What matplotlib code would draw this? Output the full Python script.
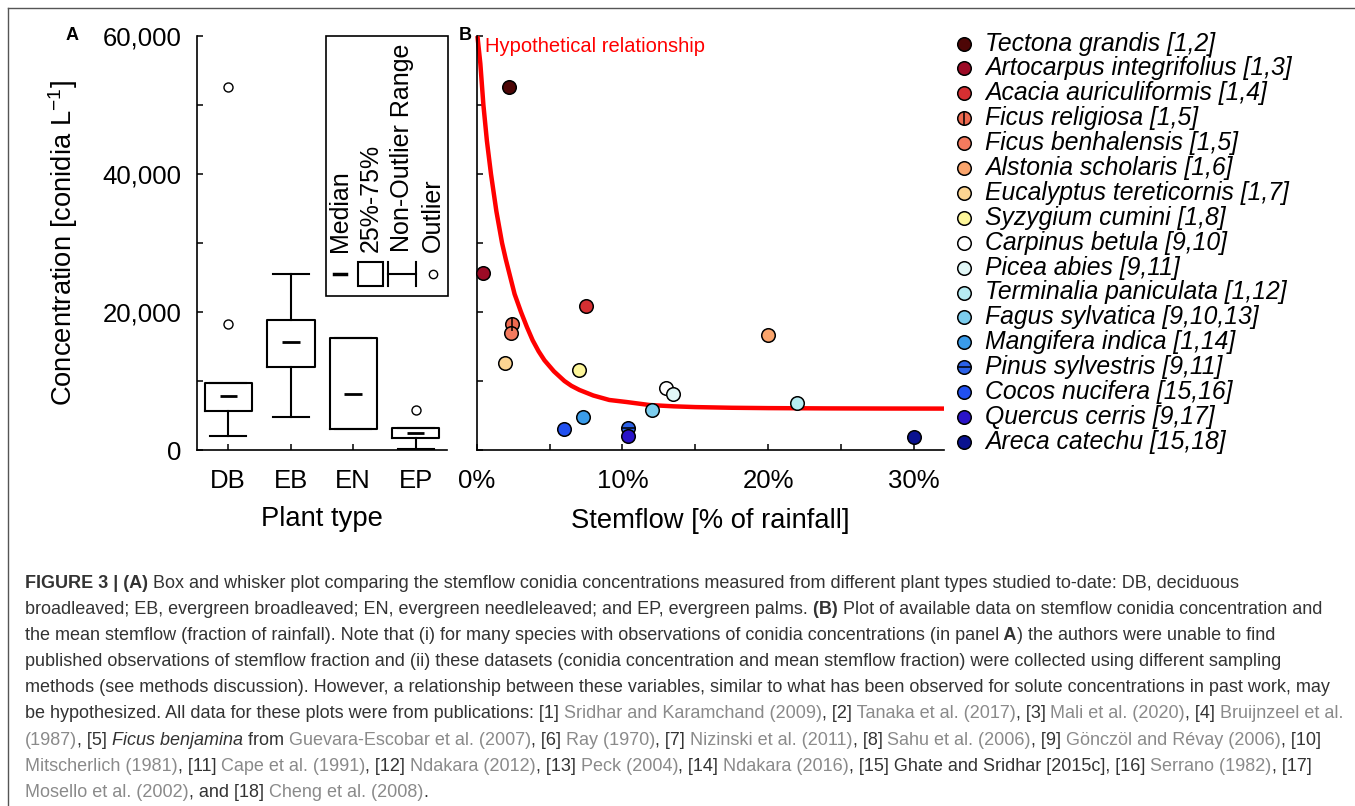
import matplotlib
matplotlib.use("Agg")
import matplotlib.pyplot as plt
from matplotlib.patches import Rectangle
from matplotlib.lines import Line2D

plt.rcParams['font.family'] = ['Liberation Sans', 'DejaVu Sans']
plt.rcParams['mathtext.fontset'] = 'custom'
plt.rcParams['mathtext.rm'] = 'Liberation Sans'
plt.rcParams['mathtext.it'] = 'Liberation Sans:italic'

# panel A - box plot stats per plant type
plant_types = ['DB', 'EB', 'EN', 'EP']
box_q1 = [5700, 11980, 3090, 1790]
box_med = [7870, 15650, 8070, 2510]
box_q3 = [9670, 18840, 16280, 3140]
whisker_low = [1980, 4730, 3090, 190]
whisker_high = [9670, 25550, 16280, 3140]
outliers = [[52650, 18210], [], [], [5800]]

# panel B - species, stemflow %, conidia conc.
species = ['Tectona grandis [1,2]', 'Artocarpus integrifolius [1,3]',
           'Acacia auriculiformis [1,4]', 'Ficus religiosa [1,5]',
           'Ficus benhalensis [1,5]', 'Alstonia scholaris [1,6]',
           'Eucalyptus tereticornis [1,7]', 'Syzygium cumini [1,8]',
           'Carpinus betula [9,10]', 'Picea abies [9,11]',
           'Terminalia paniculata [1,12]', 'Fagus sylvatica [9,10,13]',
           'Mangifera indica [1,14]', 'Pinus sylvestris [9,11]',
           'Cocos nucifera [15,16]', 'Quercus cerris [9,17]',
           'Areca catechu [15,18]']
stemflow = [2.2, 0.4, 7.5, 2.4, 2.35, 20.0, 1.95, 7.0, 13.0, 13.45,
            22.0, 12.0, 7.3, 10.4, 6.0, 10.4, 30.0]
conidia = [52600, 25600, 20800, 18250, 17000, 16700, 12600, 11550, 8950,
           8100, 6850, 5750, 4750, 3130, 3080, 1980, 1880]
sp_colors = ['#4d0606', '#9c0b26', '#d62f32', '#ee6a50', '#f47a5e',
             '#f9a46c', '#fdd592', '#fdf69a', '#ffffff', '#e2f8f8',
             '#b6ecf3', '#7ccdee', '#3a9cea', '#2c62e8', '#2150f0',
             '#2a13c8', '#0a1290']
sp_stripe = {'Ficus religiosa [1,5]': '|', 'Pinus sylvestris [9,11]': '_'}

# hypothetical relationship, points
curve_x = [0.05, 0.25, 0.46, 0.7, 0.98, 1.35, 1.74, 2.0, 2.24, 2.6, 3.04,
           3.45, 3.84, 4.25, 4.65, 5.3, 6.02, 6.5, 7.05, 8.0, 9.1, 10.3,
           11.85, 13.5, 15.0, 17.5, 20.0, 24.0, 28.0, 32.07]
curve_y = [60000, 56000, 50000, 44800, 40000, 34600, 30000, 27600, 25600,
           22600, 20000, 17800, 15900, 14300, 13000, 11400, 10000, 9300,
           8700, 7900, 7250, 6950, 6520, 6330, 6220, 6120, 6070, 6030,
           6010, 6000]

W, H = 1355, 806
fig = plt.figure(figsize=(W / 100, H / 100), dpi=100)

def ax_rect(l, r, t, b):
    return [l / W, 1 - b / H, (r - l) / W, (b - t) / H]

tick_fs = 18.5
lab_fs = 19.7

def style_axes(ax):
    for s in ['top', 'right']:
        ax.spines[s].set_visible(False)
    for s in ['left', 'bottom']:
        ax.spines[s].set_linewidth(1.2)
    ax.tick_params(direction='in', length=4.2, width=1.1, labelsize=tick_fs)
    ax.tick_params(axis='x', pad=14)
    ax.tick_params(axis='y', pad=11)
    ax.set_ylim(0, 60000)
    ax.set_yticks(range(0, 60001, 10000))

# ---- panel A
axA = fig.add_axes(ax_rect(197, 447, 36, 450))
style_axes(axA)
pos = [1, 2, 3, 4]
stats = []
for i in range(4):
    stats.append(dict(med=box_med[i], q1=box_q1[i], q3=box_q3[i],
                      whislo=whisker_low[i], whishi=whisker_high[i],
                      fliers=outliers[i]))
lp = dict(color='black', linewidth=1.5)
axA.bxp(stats, positions=pos, widths=0.76, capwidths=0.58,
        boxprops=lp, whiskerprops=lp, capprops=lp,
        medianprops=dict(visible=False),
        flierprops=dict(marker='o', markersize=6.5, markerfacecolor='none',
                        markeredgecolor='black', markeredgewidth=1),
        manage_ticks=False)
axA.hlines(box_med, [p - 0.14 for p in pos], [p + 0.14 for p in pos],
           color='black', linewidth=2)
axA.set_xlim(0.5, 4.5)
axA.set_xticks(pos)
axA.set_xticklabels(plant_types)
axA.set_yticklabels(['0', '', '20,000', '', '40,000', '', '60,000'])
axA.set_ylabel('Concentration [conidia L$^{-1}$]', fontsize=lab_fs)
axA.yaxis.set_label_coords(-0.468, 0.5)
axA.set_xlabel('Plant type', fontsize=lab_fs)
axA.xaxis.set_label_coords(0.5, -0.135)

# rotated key inside panel A
axA.add_patch(Rectangle((0.516, 0.372), 0.488, 0.628, transform=axA.transAxes,
                        fill=False, edgecolor='black', linewidth=1.2,
                        clip_on=False))
key_x = [(340 - 197) / 250, (371 - 197) / 250, (402 - 197) / 250, (433 - 197) / 250]
key_lab = ['Median', '25%-75%', 'Non-Outlier Range', 'Outlier']
for kx, kl in zip(key_x, key_lab):
    axA.text(kx, 0.478, kl, rotation=90, ha='center', va='bottom',
             fontsize=18, transform=axA.transAxes)
ky = (450 - 274) / 414
axA.plot([key_x[0] - 0.022, key_x[0] + 0.022], [ky, ky], color='black', lw=2.5,
         transform=axA.transAxes, clip_on=False)
axA.add_patch(Rectangle((key_x[1] - 0.05, ky - 0.028), 0.1, 0.056,
                        transform=axA.transAxes, fill=False, edgecolor='black',
                        linewidth=1.5, clip_on=False))
axA.plot([key_x[2] - 0.055, key_x[2] + 0.055], [ky, ky], color='black', lw=1.5,
         transform=axA.transAxes, clip_on=False)
for dx in (-0.055, 0.055):
    axA.plot([key_x[2] + dx, key_x[2] + dx], [ky - 0.028, ky + 0.028],
             color='black', lw=1.5, transform=axA.transAxes, clip_on=False)
axA.plot([key_x[3]], [ky], marker='o', markersize=6, markerfacecolor='none',
         markeredgecolor='black', transform=axA.transAxes, clip_on=False)

# ---- panel B
axB = fig.add_axes(ax_rect(476.7, 944, 36, 450))
style_axes(axB)
axB.set_yticklabels([])
axB.set_xlim(0, 32.07)
axB.set_xticks(range(0, 31, 5))
axB.set_xticklabels(['0%', '', '10%', '', '20%', '', '30%'])
axB.set_xlabel('Stemflow [% of rainfall]', fontsize=lab_fs)
axB.xaxis.set_label_coords(0.5, -0.14)
axB.plot(curve_x, curve_y, color='#ff0000', linewidth=3.2, zorder=2,
         clip_on=False, solid_capstyle='butt', solid_joinstyle='round')
axB.text(0.018, 0.9746, 'Hypothetical relationship', color='#ff0000',
         fontsize=14.5, transform=axB.transAxes, va='center', ha='left')
for sx, sy, c, name in zip(stemflow, conidia, sp_colors, species):
    axB.scatter(sx, sy, s=95, color=c, edgecolors='black', linewidths=1.1,
                zorder=3, clip_on=False)
    if name in sp_stripe:
        axB.scatter(sx, sy, s=95, marker=sp_stripe[name], color='black',
                    linewidths=1.1, zorder=4, clip_on=False)

# ---- overlay in pixel coordinates: labels, species key, caption, frame
ov = fig.add_axes([0, 0, 1, 1])
ov.set_xlim(0, W)
ov.set_ylim(H, 0)
ov.axis('off')

ov.text(72, 36, 'A', fontsize=13, fontweight='bold', ha='center', va='center')
ov.text(465, 35, 'B', fontsize=13, fontweight='bold', ha='center', va='center')

for i, (name, c) in enumerate(zip(species, sp_colors)):
    yy = 43.5 + i * 24.9
    ov.scatter(964, yy, s=95, color=c, edgecolors='black', linewidths=1.1)
    if name in sp_stripe:
        ov.scatter(964, yy, s=95, marker=sp_stripe[name], color='black',
                   linewidths=1.1)
    ov.text(985, yy, name, fontsize=17.8, fontstyle='italic', ha='left',
            va='center')

ov.add_line(Line2D([8, W], [8, 8], color='#555555', linewidth=1))
ov.add_line(Line2D([8, 8], [8, H], color='#555555', linewidth=1))

cap_fs = 13
dark = '#333333'
grey = '#8a8a8a'
B_, G_, I_, N_ = 'b', 'g', 'i', 'n'
cap_lines = [
    [('FIGURE 3 | (A)', B_), (' Box and whisker plot comparing the stemflow conidia concentrations measured from different plant types studied to-date: DB, deciduous', N_)],
    [('broadleaved; EB, evergreen broadleaved; EN, evergreen needleleaved; and EP, evergreen palms.', N_), (' (B)', B_), (' Plot of available data on stemflow conidia concentration and', N_)],
    [('the mean stemflow (fraction of rainfall). Note that (i) for many species with observations of conidia concentrations (in panel', N_), (' A', B_), (') the authors were unable to find', N_)],
    [('published observations of stemflow fraction and (ii) these datasets (conidia concentration and mean stemflow fraction) were collected using different sampling', N_)],
    [('methods (see methods discussion). However, a relationship between these variables, similar to what has been observed for solute concentrations in past work, may', N_)],
    [('be hypothesized. All data for these plots were from publications: [1]', N_), (' Sridhar and Karamchand (2009)', G_), (', [2]', N_), (' Tanaka et al. (2017)', G_), (', [3]', N_), (' Mali et al. (2020)', G_), (', [4]', N_), (' Bruijnzeel et al.', G_)],
    [('(1987)', G_), (', [5]', N_), (' Ficus benjamina', I_), (' from', N_), (' Guevara-Escobar et al. (2007)', G_), (', [6]', N_), (' Ray (1970)', G_), (', [7]', N_), (' Nizinski et al. (2011)', G_), (', [8]', N_), (' Sahu et al. (2006)', G_), (', [9]', N_), (' Gönczöl and Révay (2006)', G_), (', [10]', N_)],
    [('Mitscherlich (1981)', G_), (', [11]', N_), (' Cape et al. (1991)', G_), (', [12]', N_), (' Ndakara (2012)', G_), (', [13]', N_), (' Peck (2004)', G_), (', [14]', N_), (' Ndakara (2016)', G_), (', [15] Ghate and Sridhar [2015c], [16]', N_), (' Serrano (1982)', G_), (', [17]', N_)],
    [('Mosello et al. (2002)', G_), (', and [18]', N_), (' Cheng et al. (2008)', G_), ('.', N_)],
]

for li, parts in enumerate(cap_lines):
    yb = 588 + li * 26.1
    prev = None
    for txt, st in parts:
        kw = dict(fontsize=cap_fs, color=grey if st == G_ else dark,
                  fontweight='bold' if st == B_ else 'normal',
                  fontstyle='italic' if st == I_ else 'normal', ha='left')
        if prev is None:
            prev = ov.text(25, yb, txt, va='baseline', **kw)
        else:
            prev = ov.annotate(txt, xy=(1, 0), xycoords=prev, va='bottom', **kw)

fig.savefig('out.png', dpi=100)
